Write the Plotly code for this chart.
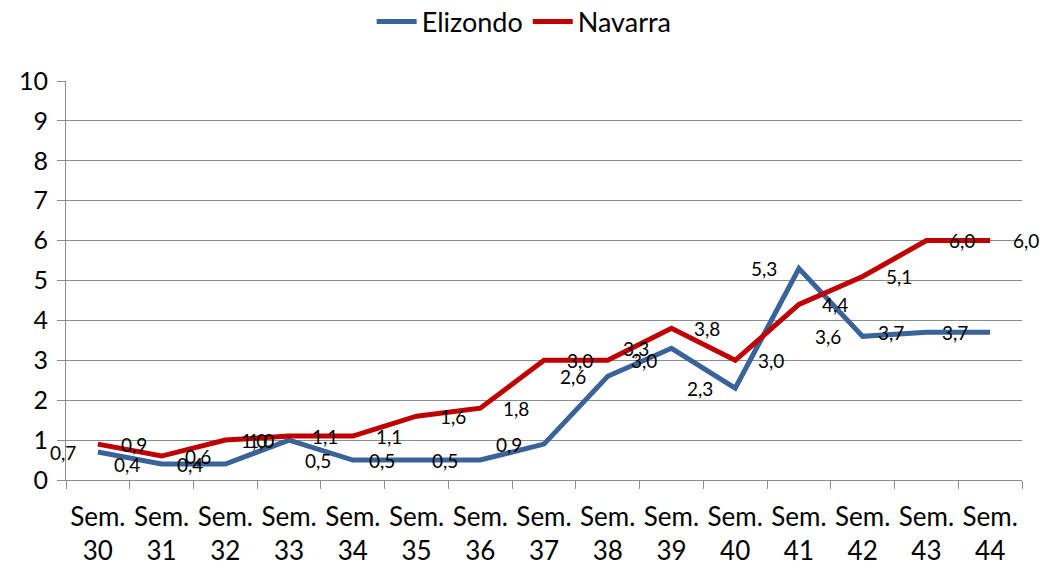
import plotly.graph_objects as go

weeks = ["30", "31", "32", "33", "34", "35", "36", "37", "38", "39", "40", "41", "42", "43", "44"]
categories = ["Sem.<br>" + w for w in weeks]
elizondo = [0.7, 0.4, 0.4, 1.0, 0.5, 0.5, 0.5, 0.9, 2.6, 3.3, 2.3, 5.3, 3.6, 3.7, 3.7]
navarra = [0.9, 0.6, 1.0, 1.1, 1.1, 1.6, 1.8, 3.0, 3.0, 3.8, 3.0, 4.4, 5.1, 6.0, 6.0]
y_ticks = list(range(0, 11))

BLUE = "#3A6399"
RED = "#C00000"
GRID = "#8C8C8C"
FONT = "Lato"

fig = go.Figure()
fig.add_trace(go.Scatter(x=categories, y=elizondo, mode="lines", name="Elizondo",
                         line=dict(color=BLUE, width=5)))
fig.add_trace(go.Scatter(x=categories, y=navarra, mode="lines", name="Navarra",
                         line=dict(color=RED, width=5)))

def fmt(v):
    return f"{v:.1f}".replace(".", ",")

annotations = []
for c, v in zip(categories, elizondo):
    annotations.append(dict(x=c, y=v, text=fmt(v), showarrow=False, xshift=-35,
                            font=dict(family=FONT, size=19, color="black")))
for c, v in zip(categories, navarra):
    annotations.append(dict(x=c, y=v, text=fmt(v), showarrow=False, xshift=36,
                            font=dict(family=FONT, size=19, color="black")))

fig.update_layout(
    width=1040, height=565,
    margin=dict(l=66, r=18, t=81, b=85, autoexpand=False),
    paper_bgcolor="white", plot_bgcolor="white",
    font=dict(family=FONT, size=24, color="black"),
    showlegend=True,
    legend=dict(orientation="h", xref="container", yref="container",
                x=0.504, xanchor="center", y=0.961, yanchor="middle",
                font=dict(family=FONT, size=27, color="black"),
                itemwidth=40, tracegroupgap=0),
    annotations=annotations,
)
fig.update_xaxes(type="category", range=[-0.5, 14.5], tickson="boundaries",
                 ticks="outside", ticklen=8,
                 tickcolor=GRID, showline=True, linecolor=GRID, linewidth=1,
                 showgrid=False, tickangle=0, ticklabelstandoff=14, automargin=False,
                 tickfont=dict(family=FONT, size=26, color="black"))
fig.update_yaxes(range=[0, 10], tickvals=y_ticks, ticks="outside", ticklen=8,
                 tickcolor=GRID, showline=True, linecolor=GRID, linewidth=1,
                 showgrid=True, gridcolor=GRID, gridwidth=1, zeroline=False,
                 ticklabelstandoff=4, automargin=False,
                 tickfont=dict(family=FONT, size=25, color="black"))

fig.write_html("out.html", config={"displayModeBar": False},
               post_script="document.body.style.margin='0';document.body.style.overflow='hidden';")
